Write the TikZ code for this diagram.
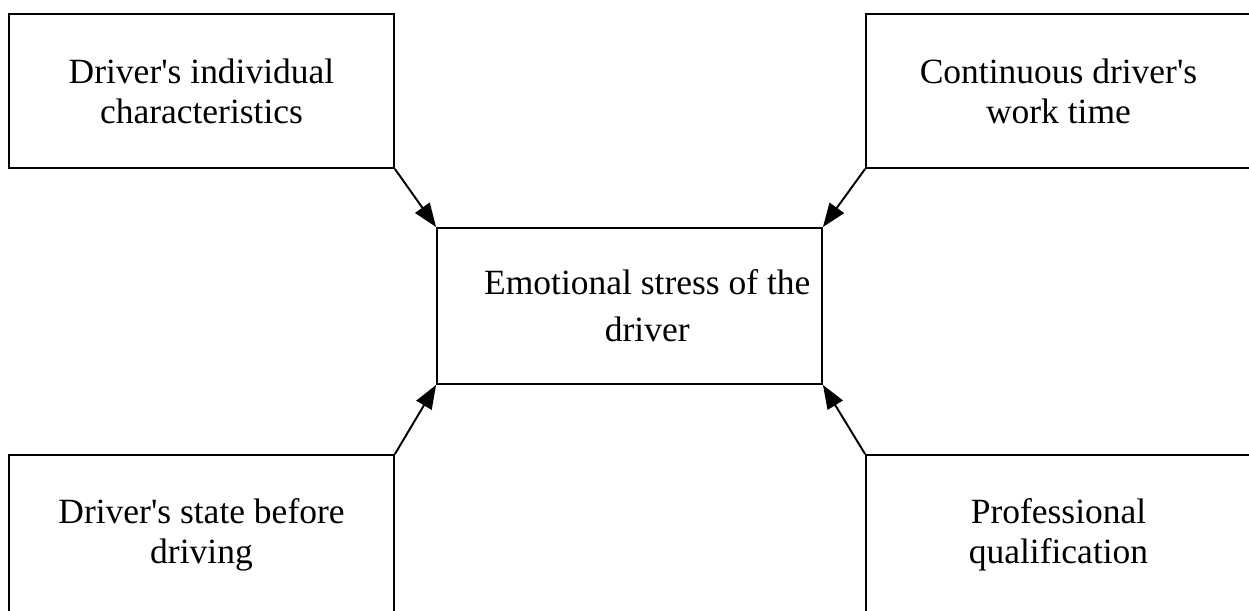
\documentclass[tikz,border=0pt]{standalone}
\usepackage{fontspec}
\setmainfont{Liberation Serif}
\usetikzlibrary{arrows.meta}
\tikzset{
    factor/.style={draw,line width=1.1pt,minimum width=7.7cm,align=center,
        font=\fontsize{20.2}{22.8}\selectfont},
    effect/.style={factor,font=\fontsize{20.2}{26.6}\selectfont},
    influence/.style={line width=1.1pt,-{Triangle[length=13.5pt,width=10pt]}}
}
\begin{document}
\begin{tikzpicture}[x=0.02cm,y=0.02cm]
        \clip (0,0) rectangle (1249,610);
        \node[factor,minimum height=3.08cm] (indiv) at (201.5,519) {Driver\textquotesingle s individual\\characteristics};
        \node[factor,minimum height=3.08cm] (worktime) at (1058.5,519) {Continuous driver\textquotesingle s\\work time};
        \node[factor,minimum height=3.18cm] (state) at (201.5,75.5) {Driver\textquotesingle s state before\\driving};
        \node[factor,minimum height=3.18cm] (qualif) at (1058.5,75.5) {Professional\\qualification};
        \node[effect,minimum height=3.12cm] (stress) at (629.5,304) {\hspace*{1em}Emotional stress of the\\\hspace*{1em}driver};
        \draw[influence] (indiv.south east) -- (stress.north west);
        \draw[influence] (worktime.south west) -- (stress.north east);
        \draw[influence] (state.north east) -- (stress.south west);
        \draw[influence] (qualif.north west) -- (stress.south east);
    \end{tikzpicture}
\end{document}
